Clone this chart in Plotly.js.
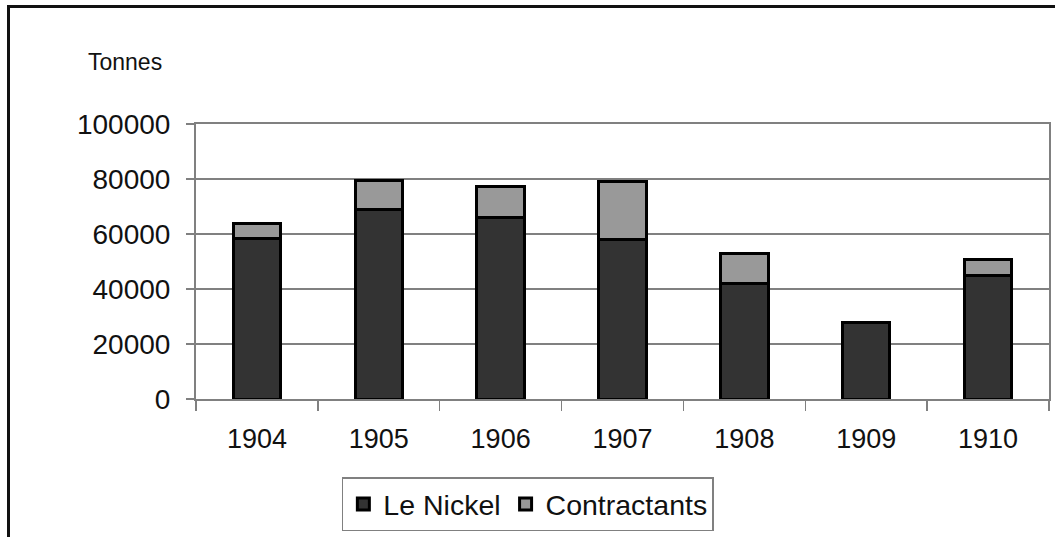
<!DOCTYPE html>
<html>
<head>
<meta charset="utf-8">
<script src="https://cdn.plot.ly/plotly-3.0.1.min.js"></script>
<style>
  html, body { margin: 0; padding: 0; background: #fff; }
  #wrap { position: relative; width: 1055px; height: 537px; overflow: hidden; }
  #chart { position: absolute; left: 0; top: 0; width: 1055px; height: 537px; }
  #frame { position: absolute; left: 7px; top: 5px; width: 1100px; height: 600px;
           border-left: 3px solid #111; border-top: 3px solid #111; pointer-events: none; }
</style>
</head>
<body>
<div id="wrap">
  <div id="chart"></div>
  <div id="frame"></div>
</div>
<script>
const years = ['1904', '1905', '1906', '1907', '1908', '1909', '1910'];
const leNickel = [58200, 68800, 66000, 58100, 42000, 27700, 45000];
const contractants = [5700, 10600, 11400, 21000, 11000, 0, 5900];
const yTicks = [0, 20000, 40000, 60000, 80000, 100000];

const font = 'Liberation Sans, Arial, sans-serif';

const traces = [
  {
    type: 'bar', name: 'Le Nickel', x: years, y: leNickel,
    marker: { color: '#333333', line: { color: '#000000', width: 3 } },
    hoverinfo: 'x+y+name'
  },
  {
    type: 'bar', name: 'Contractants', x: years, y: contractants,
    marker: { color: '#999999', line: { color: '#000000', width: 3 } },
    hoverinfo: 'x+y+name'
  }
];

const layout = {
  width: 1055, height: 537,
  margin: { l: 196, r: 6, t: 124, b: 138, pad: 0 },
  paper_bgcolor: '#ffffff', plot_bgcolor: '#ffffff',
  barmode: 'stack', bargap: 0.61,
  font: { family: font, color: '#111111', size: 28 },
  showlegend: true,
  legend: {
    orientation: 'h', x: 0.171, xanchor: 'left', y: -0.285, yanchor: 'top',
    bordercolor: '#808080', borderwidth: 1.5, bgcolor: '#ffffff',
    font: { family: font, size: 28.5, color: '#111111' },
    traceorder: 'normal', itemwidth: 30
  },
  xaxis: {
    type: 'category', tickson: 'boundaries', ticks: 'outside', ticklen: 10,
    tickcolor: '#808080', tickwidth: 1.5, showline: true, linecolor: '#808080', linewidth: 2,
    mirror: true, showgrid: false, ticklabelstandoff: 15,
    tickfont: { family: font, size: 27, color: '#111111' }, fixedrange: true
  },
  yaxis: {
    range: [0, 100000], tickvals: yTicks, ticktext: yTicks.map(String),
    ticks: 'outside', ticklen: 8, tickcolor: '#808080', tickwidth: 1.5,
    showline: true, linecolor: '#808080', linewidth: 2, mirror: true,
    showgrid: true, gridcolor: '#808080', gridwidth: 1.5, zeroline: false,
    ticklabelstandoff: 10,
    tickfont: { family: font, size: 28, color: '#111111' }, fixedrange: true
  },
  annotations: [
    {
      text: 'Tonnes', xref: 'paper', yref: 'paper', x: -0.1295, xanchor: 'left',
      y: 1.226, yanchor: 'middle', showarrow: false,
      font: { family: font, size: 23, color: '#111111' }
    }
  ]
};

Plotly.newPlot('chart', traces, layout, { displayModeBar: false, staticPlot: true });
</script>
</body>
</html>
